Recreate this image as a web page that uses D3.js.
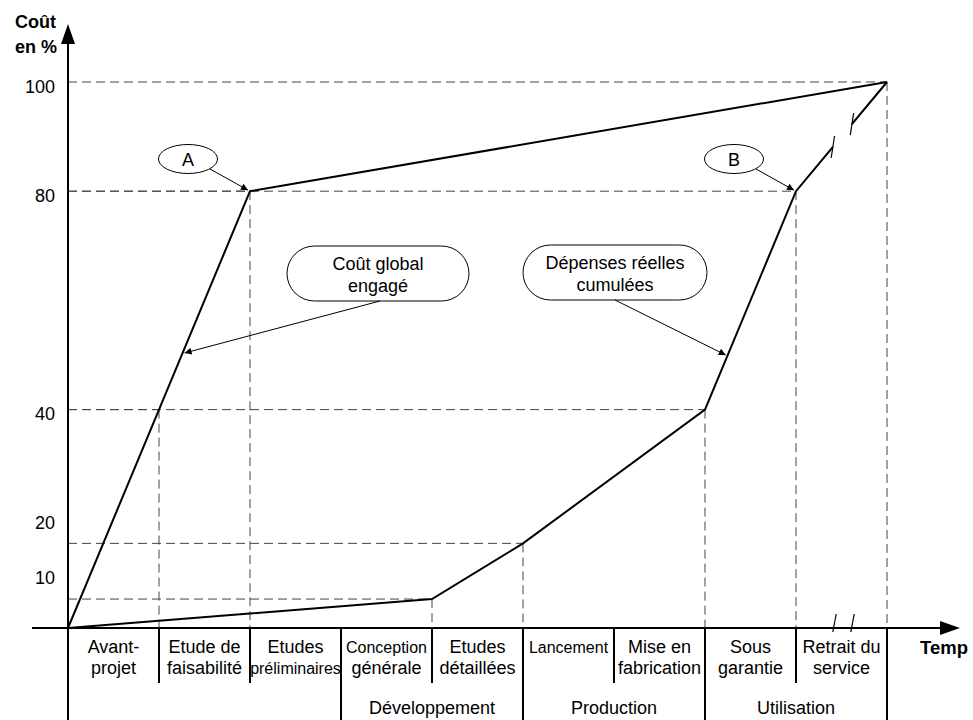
<!DOCTYPE html>
<html><head><meta charset="utf-8">
<script src="https://cdn.jsdelivr.net/npm/d3@7"></script>
<style>
html,body{margin:0;padding:0;background:#fff;}
svg{display:block;font-family:"Liberation Sans",Arial,Helvetica,sans-serif;}
</style></head>
<body>
<svg id="chart" width="973" height="720"></svg>
<script>
// ---- data ----
const phaseLine1 = ["Avant-","Etude de","Etudes","Conception","Etudes","Lancement","Mise en","Sous","Retrait du"];
const phaseLine2 = ["projet","faisabilité","préliminaires","générale","détaillées","","fabrication","garantie","service"];
const groupNames = ["Développement","Production","Utilisation"];
const groupStart = [3,5,7];
const groupEnd = [5,7,9];
const yTicks = [10,20,40,80,100];
const engagedT = [0,1,2,9];
const engagedV = [0,40,80,100];
const spentT = [0,4,5,7,8,9];
const spentV = [0,5.3,15.5,40,80,100];
const annotA = "A", annotB = "B";
const labelEngaged = ["Coût global","engagé"];
const labelSpent = ["Dépenses réelles","cumulées"];

const svg = d3.select("#chart");
const x = d3.scaleLinear().domain([0,9]).range([68,887]);
const y = d3.scaleLinear().domain([0,100]).range([628,82]);

// defs: arrowhead
svg.append("defs").append("marker")
  .attr("id","ah").attr("viewBox","0 0 10 10").attr("refX",10).attr("refY",5)
  .attr("markerWidth",10).attr("markerHeight",7).attr("markerUnits","userSpaceOnUse")
  .attr("orient","auto")
  .append("path").attr("d","M0,0 L10,5 L0,10 Z").attr("fill","#000");

const dash = "9,5";
const gD = svg.append("g").attr("stroke","#444").attr("stroke-width",1).attr("stroke-dasharray",dash).attr("fill","none");

// dashed guides (from curve breakpoints)
const guides = [];
engagedT.forEach((t,i)=>{ if(i>0) guides.push([t,engagedV[i]]); });
spentT.forEach((t,i)=>{ if(i>0) guides.push([t,spentV[i]]); });
const seen = {};
guides.forEach(([t,v])=>{
  const k=t+"_"+v; if(seen[k]) return; seen[k]=1;
  gD.append("line").attr("x1",x(0)).attr("x2",x(t)).attr("y1",y(v)).attr("y2",y(v));
  gD.append("line").attr("x1",x(t)).attr("x2",x(t)).attr("y1",y(v)).attr("y2",y(0));
});

// curves
const line = d3.line().x(d=>x(d[0])).y(d=>y(d[1]));
svg.append("path").datum(engagedT.map((t,i)=>[t,engagedV[i]]))
  .attr("d",line).attr("fill","none").attr("stroke","#000").attr("stroke-width",2).attr("stroke-linejoin","miter");
svg.append("path").datum(spentT.map((t,i)=>[t,spentV[i]]))
  .attr("d",line).attr("fill","none").attr("stroke","#000").attr("stroke-width",2);

// break on last spent segment
(function(){
  const n = spentT.length;
  const p0=[x(spentT[n-2]),y(spentV[n-2])], p1=[x(spentT[n-1]),y(spentV[n-1])];
  const at = f=>[p0[0]+(p1[0]-p0[0])*f, p0[1]+(p1[1]-p0[1])*f];
  const a=at(0.405), b=at(0.615);
  svg.append("line").attr("x1",a[0]).attr("y1",a[1]).attr("x2",b[0]).attr("y2",b[1])
    .attr("stroke","#fff").attr("stroke-width",5);
  [a,b].forEach(p=>{
    svg.append("line").attr("x1",p[0]-1.7).attr("y1",p[1]+11).attr("x2",p[0]+1.7).attr("y2",p[1]-11)
      .attr("stroke","#000").attr("stroke-width",1.2);
  });
})();

// axes
svg.append("line").attr("x1",x(0)).attr("x2",x(0)).attr("y1",40).attr("y2",720).attr("stroke","#000").attr("stroke-width",2);
svg.append("path").attr("d",`M${x(0)},24 L${x(0)-7},44 L${x(0)+7},44 Z`).attr("fill","#000");
svg.append("line").attr("x1",32).attr("x2",945).attr("y1",y(0)).attr("y2",y(0)).attr("stroke","#000").attr("stroke-width",2);
svg.append("path").attr("d",`M960,${y(0)} L940,${y(0)-7} L940,${y(0)+7} Z`).attr("fill","#000");
[834.5,852.5].forEach(cx=>{
  svg.append("line").attr("x1",cx-1.7).attr("y1",y(0)+4).attr("x2",cx+1.7).attr("y2",y(0)-14)
    .attr("stroke","#000").attr("stroke-width",1.2);
});

// y tick labels
const yAxis = svg.append("g").attr("transform",`translate(${x(0)},0)`)
  .call(d3.axisLeft(y).tickValues(yTicks).tickSize(0).tickPadding(13));
yAxis.select(".domain").remove();
yAxis.selectAll("text").attr("font-size",18).attr("font-family","Liberation Sans, Arial, sans-serif")
  .attr("fill","#000").attr("dy","0.56em");

// axis titles
svg.append("text").attr("x",56).attr("y",28).attr("text-anchor","end").attr("font-weight","bold").attr("font-size",18).text("Coût");
svg.append("text").attr("x",57).attr("y",53).attr("text-anchor","end").attr("font-weight","bold").attr("font-size",18).text("en %");
svg.append("text").attr("x",920).attr("y",654).attr("font-weight","bold").attr("font-size",18.5).text("Temp");

// separators under axis
const longSep = new Set([0, ...groupStart, ...groupEnd]);
d3.range(0,10).forEach(i=>{
  if(i===0) return;
  svg.append("line").attr("x1",x(i)).attr("x2",x(i)).attr("y1",y(0)).attr("y2",longSep.has(i)?720:683)
    .attr("stroke","#000").attr("stroke-width",2);
});

// phase labels
const smallSet = new Set(["Conception","préliminaires","Lancement"]);
phaseLine1.forEach((t,i)=>{
  const cx = (x(i)+x(i+1))/2;
  svg.append("text").attr("x",cx).attr("y",653).attr("text-anchor","middle")
    .attr("font-size",smallSet.has(t)?16:18).text(t);
  if(phaseLine2[i]) svg.append("text").attr("x",cx).attr("y",674).attr("text-anchor","middle")
    .attr("font-size",smallSet.has(phaseLine2[i])?16:18).text(phaseLine2[i]);
});
groupNames.forEach((g,i)=>{
  svg.append("text").attr("x",(x(groupStart[i])+x(groupEnd[i]))/2).attr("y",714)
    .attr("text-anchor","middle").attr("font-size",18).text(g);
});

// ellipse annotations A & B
function ellipseNote(cx,cy,label,tx,ty){
  svg.append("ellipse").attr("cx",cx).attr("cy",cy).attr("rx",29.5).attr("ry",14.5)
    .attr("fill","#fff").attr("stroke","#000").attr("stroke-width",1);
  svg.append("text").attr("x",cx).attr("y",cy+6.5).attr("text-anchor","middle").attr("font-size",18).text(label);
  svg.append("line").attr("x1",cx+22).attr("y1",cy+10).attr("x2",tx-2).attr("y2",ty-1)
    .attr("stroke","#000").attr("stroke-width",1).attr("marker-end","url(#ah)");
}
ellipseNote(188,159,annotA,x(engagedT[2]),y(engagedV[2]));
ellipseNote(734,159,annotB,x(spentT[4]),y(spentV[4]));

// rounded boxes
function boxNote(x0,y0,w,h,lines,ax,ay,tx,ty){
  svg.append("rect").attr("x",x0).attr("y",y0).attr("width",w).attr("height",h)
    .attr("rx",h/2).attr("ry",h/2).attr("fill","#fff").attr("stroke","#000").attr("stroke-width",1);
  lines.forEach((l,i)=>{
    svg.append("text").attr("x",x0+w/2).attr("y",y0+24+i*22).attr("text-anchor","middle").attr("font-size",18).text(l);
  });
  svg.append("line").attr("x1",ax).attr("y1",ay).attr("x2",tx).attr("y2",ty)
    .attr("stroke","#000").attr("stroke-width",1).attr("marker-end","url(#ah)");
}
function onSeg(T,V,k,py){
  const x0=x(T[k]),y0=y(V[k]),x1=x(T[k+1]),y1=y(V[k+1]);
  return [x0+(x1-x0)*(py-y0)/(y1-y0), py];
}
const pE = onSeg(engagedT,engagedV,1,353);
const pS = onSeg(spentT,spentV,3,355);
boxNote(287,246,182,55,labelEngaged,380,301,pE[0]+2,pE[1]);
boxNote(523,245,184,55,labelSpent,615,300,pS[0]-2,pS[1]);
</script>
</body></html>
